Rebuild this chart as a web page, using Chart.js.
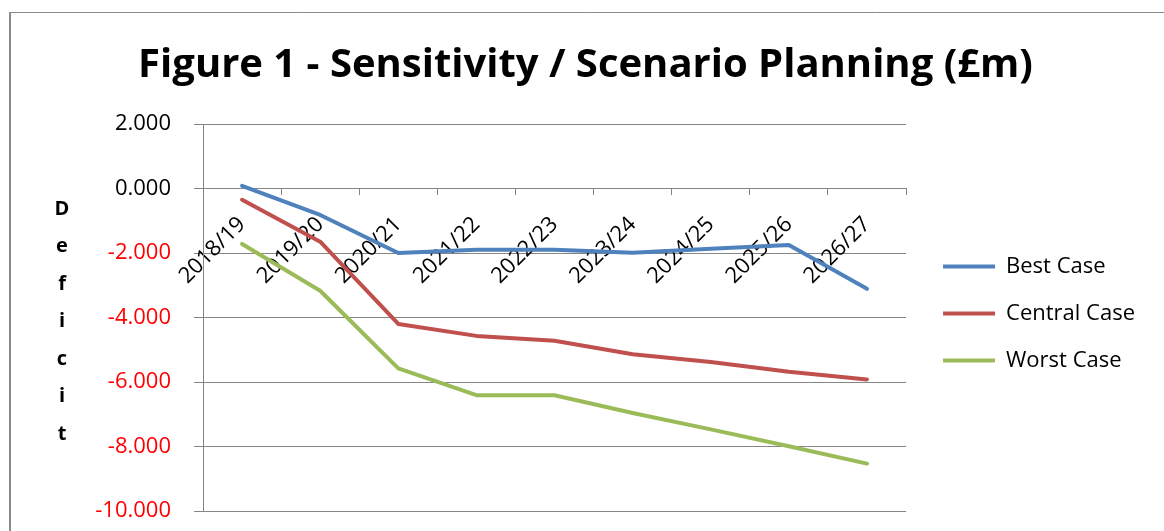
<!DOCTYPE html>
<html>
<head>
<meta charset="utf-8">
<script src="https://cdn.jsdelivr.net/npm/chart.js@4.4.1/dist/chart.umd.min.js"></script>
<style>
  html, body { margin: 0; padding: 0; background: #fff; }
  #wrap { width: 1164px; height: 531px; }
</style>
</head>
<body>
<div id="wrap"><canvas id="scenarioChart" width="1164" height="531"></canvas></div>
<script>
// 年份（类别）
const years = ['2018/19', '2019/20', '2020/21', '2021/22', '2022/23', '2023/24', '2024/25', '2025/26', '2026/27'];

// 三种情景的赤字（£m）
const bestCase = [0.08, -0.82, -2.00, -1.90, -1.90, -1.99, -1.87, -1.75, -3.11];
const centralCase = [-0.35, -1.65, -4.20, -4.57, -4.72, -5.14, -5.38, -5.68, -5.92];
const worstCase = [-1.72, -3.17, -5.58, -6.41, -6.41, -6.96, -7.47, -7.99, -8.53];

const seriesNames = ['Best Case', 'Central Case', 'Worst Case'];
const seriesColors = ['#4F81BD', '#C0504D', '#9BBB59'];

// y 轴刻度范围
const yMin = -10;
const yMax = 2;
const yStep = 2;

const axisTitle = 'Deficit';
const chartTitle = 'Figure 1 - Sensitivity / Scenario Planning (£m)';

const gridGrey = '#868686';
const fontFamily = "'Open Sans', 'Noto Sans', sans-serif";

// 外框 + 竖排的 y 轴标题
const decorPlugin = {
    id: 'decor',
    afterLayout(chart) {
        // 图例挪一下，对齐原图
        const lg = chart.legend;
        lg.left += 12; lg.right += 12;
        lg.top += 58; lg.bottom += 58;
    },
    afterDraw(chart) {
        const ctx = chart.ctx;
        const area = chart.chartArea;
        ctx.save();
        ctx.strokeStyle = '#8a8a8a';
        ctx.lineWidth = 2;
        ctx.beginPath();
        ctx.moveTo(10, 12);
        ctx.lineTo(10, 531);
        ctx.stroke();
        ctx.lineWidth = 1;
        ctx.beginPath();
        ctx.moveTo(9, 12.5);
        ctx.lineTo(1164, 12.5);
        ctx.stroke();

        ctx.fillStyle = '#000';
        ctx.font = 'bold 20px ' + fontFamily;
        ctx.textAlign = 'center';
        ctx.textBaseline = 'middle';
        const letters = axisTitle.split('');
        const step = 37.5;
        const midY = (area.top + area.bottom) / 2 + 4;
        const startY = midY - step * (letters.length - 1) / 2;
        letters.forEach((ch, i) => ctx.fillText(ch, 62, startY + i * step));
        ctx.restore();
    }
};

const datasets = [bestCase, centralCase, worstCase].map((values, i) => ({
    label: seriesNames[i],
    data: values,
    borderColor: seriesColors[i],
    backgroundColor: seriesColors[i],
    borderWidth: 4,
    borderCapStyle: 'round',
    borderJoinStyle: 'round',
    pointRadius: 0,
    pointHoverRadius: 0,
    tension: 0
}));

new Chart(document.getElementById('scenarioChart'), {
    type: 'line',
    data: { labels: years, datasets: datasets },
    options: {
        responsive: false,
        animation: false,
        layout: { padding: { left: 38, right: 31, top: 0, bottom: 20 } },
        plugins: {
            title: {
                display: true,
                text: chartTitle,
                color: '#000',
                font: { family: fontFamily, size: 40, weight: 'bold' },
                padding: { top: 42, bottom: 34 }
            },
            legend: {
                position: 'right',
                labels: {
                    color: '#000',
                    font: { family: fontFamily, size: 22 },
                    usePointStyle: true,
                    pointStyleWidth: 52,
                    pointStyle: 'line',
                    padding: 25
                }
            },
            tooltip: { enabled: false }
        },
        scales: {
            x: {
                type: 'category',
                position: { y: 0 },
                offset: true,
                grid: {
                    display: true,
                    drawOnChartArea: false,
                    drawTicks: true,
                    tickLength: 6,
                    offset: true,
                    color: gridGrey
                },
                border: { display: true, color: gridGrey, width: 1 },
                ticks: {
                    color: '#000',
                    font: { family: fontFamily, size: 22 },
                    minRotation: 45,
                    maxRotation: 45,
                    autoSkip: false,
                    padding: 17
                }
            },
            y: {
                min: yMin,
                max: yMax,
                afterFit(scale) {
                    scale.width = 165;
                    scale.paddingTop = 0;
                    scale.paddingBottom = 0;
                },
                ticks: {
                    stepSize: yStep,
                    padding: 23,
                    font: { family: fontFamily, size: 22 },
                    color: ctx => ctx.tick.value < 0 ? '#FF0000' : '#000',
                    callback: v => v.toFixed(3)
                },
                grid: { color: gridGrey, lineWidth: 1, tickLength: 9 },
                border: { display: true, color: gridGrey, width: 1 }
            }
        }
    },
    plugins: [decorPlugin]
});
</script>
</body>
</html>
